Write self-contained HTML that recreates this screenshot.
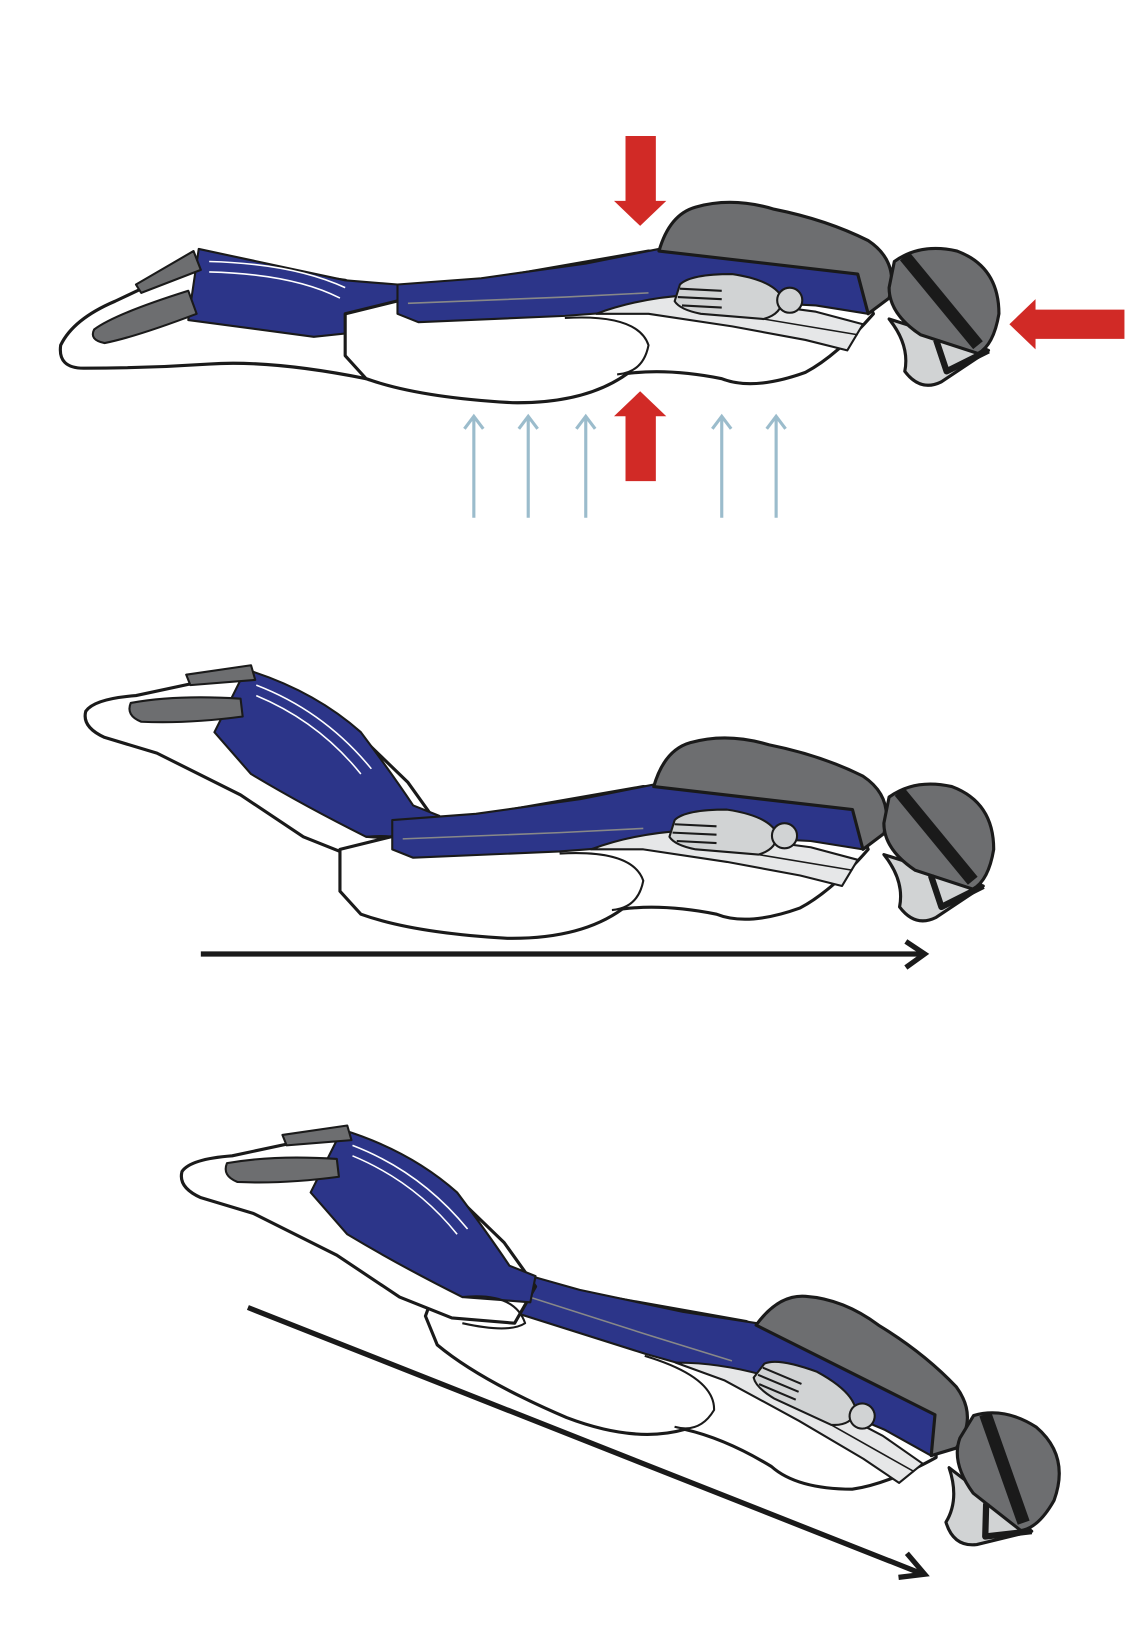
<!DOCTYPE html>
<html><head><meta charset="utf-8"><style>
html,body{margin:0;padding:0;background:#fff}
svg{display:block}
</style></head><body>
<svg width="1140" height="1650" viewBox="0 0 1140 1650" xmlns="http://www.w3.org/2000/svg">
<defs>
<g id="torso" stroke-linejoin="round">
  <path d="M330,300 L460,268 L620,240 L820,262 L835,300 Q800,340 770,356 Q720,374 690,362 Q640,352 600,357 Q560,386 490,385 Q400,380 350,362 L330,340 Z" fill="#fff" stroke="#1a1a1a" stroke-width="3"/>
  <path d="M380,272 L460,266 L560,252 L630,238 L820,262 L830,300 L780,292 L700,288 L620,296 L540,302 L400,308 L380,300 Z" fill="#2c3589" stroke="#1a1a1a" stroke-width="2"/>
  <path d="M390,290 L540,284 L620,280" fill="none" stroke="#888" stroke-width="1.5"/>
  <path d="M540,304 Q610,300 620,330 Q615,356 590,358" fill="none" stroke="#1a1a1a" stroke-width="2"/>
  <path d="M570,300 Q610,285 660,282 L780,298 L825,310 L810,335 L770,325 L700,312 L620,300 Z" fill="#e6e7e8" stroke="#1a1a1a" stroke-width="2"/>
  <path d="M700,300 L820,320" stroke="#1a1a1a" stroke-width="1.5"/>
  <path d="M650,272 Q660,262 700,262 Q740,268 748,285 Q748,300 730,305 L670,300 Q650,296 645,288 Z" fill="#d1d3d4" stroke="#1a1a1a" stroke-width="2"/>
  <path d="M650,276 L690,278 M648,284 L690,286 M652,292 L690,294" stroke="#1a1a1a" stroke-width="2"/>
  <circle cx="755" cy="287" r="12" fill="#d1d3d4" stroke="#1a1a1a" stroke-width="2"/>
  <path d="M630,240 Q640,205 665,198 Q700,188 740,200 Q790,210 830,230 Q860,250 850,285 L830,300 L820,262 Z" fill="#6d6e70" stroke="#1a1a1a" stroke-width="3"/>
  <path d="M850,305 Q870,330 865,355 Q880,375 900,365 L945,335 Z" fill="#d1d3d4" stroke="#1a1a1a" stroke-width="3"/>
  <path d="M855,250 Q880,232 915,240 Q955,255 955,300 Q950,330 935,338 L880,320 Q850,300 850,275 Z" fill="#6d6e70" stroke="#1a1a1a" stroke-width="3"/>
  <path d="M865,245 L935,330" stroke="#1a1a1a" stroke-width="12"/>
  <path d="M895,325 L905,355 L945,335" fill="none" stroke="#1a1a1a" stroke-width="6"/>
</g>
<g id="legs1" stroke-linejoin="round">
  <path d="M330,268 L190,250 L110,288 Q70,305 58,330 Q55,352 80,352 Q140,352 200,348 Q260,344 350,362 L400,345 L400,300 Z" fill="#fff" stroke="#1a1a1a" stroke-width="3"/>
  <path d="M190,238 L330,268 L380,272 L400,300 L395,312 L300,322 L180,306 Z" fill="#2c3589" stroke="#1a1a1a" stroke-width="2"/>
  <path d="M200,250 Q280,252 330,275 M200,260 Q280,262 325,285" fill="none" stroke="#fff" stroke-width="1.5"/>
  <path d="M340,300 Q400,300 405,330 Q395,358 350,360" fill="none" stroke="#1a1a1a" stroke-width="2"/>
  <path d="M130,272 L185,240 L192,258 L135,280 Z" fill="#6d6e70" stroke="#1a1a1a" stroke-width="2"/>
  <path d="M90,315 Q110,300 180,278 L188,300 Q130,322 100,328 Q85,325 90,315 Z" fill="#6d6e70" stroke="#1a1a1a" stroke-width="2"/>
</g>
<g id="legs2" stroke-linejoin="round">
  <path d="M240,645 L330,690 L390,748 L420,790 L400,825 L340,820 L290,800 L230,760 L150,720 L100,705 Q78,695 82,680 Q90,668 130,665 L200,650 Z" fill="#fff" stroke="#1a1a1a" stroke-width="3"/>
  <path d="M235,640 Q300,660 345,700 Q375,740 395,770 L420,780 L415,805 L350,800 Q290,770 240,740 L205,700 Z" fill="#2c3589" stroke="#1a1a1a" stroke-width="2"/>
  <path d="M245,655 Q310,680 355,735 M245,665 Q305,690 345,740" fill="none" stroke="#fff" stroke-width="1.5"/>
  <path d="M350,800 Q400,795 410,825 Q395,835 350,825" fill="none" stroke="#1a1a1a" stroke-width="2"/>
  <path d="M178,645 L240,636 L244,650 L182,655 Z" fill="#6d6e70" stroke="#1a1a1a" stroke-width="2"/>
  <path d="M125,672 Q170,664 230,668 L232,685 Q180,692 135,690 Q120,684 125,672 Z" fill="#6d6e70" stroke="#1a1a1a" stroke-width="2"/>
</g>
</defs>

<g transform="scale(1.046)">
<!-- Figure 1 -->
<use href="#legs1"/>
<use href="#torso"/>
<path d="M598,130 H627 V192 H637 L612,216 L587,192 H598 Z" fill="#d12a26"/>
<path d="M598,460 H627 V398 H637 L612,374 L587,398 H598 Z" fill="#d12a26"/>
<path d="M1075,296 V324 H990 V334 L965,310 L990,286 V296 Z" fill="#d12a26"/>
<g stroke="#9bbccc" stroke-width="3" fill="none">
  <path d="M453,495 V398 M444,410 L453,398 L462,410"/>
  <path d="M505,495 V398 M496,410 L505,398 L514,410"/>
  <path d="M560,495 V398 M551,410 L560,398 L569,410"/>
  <path d="M690,495 V398 M681,410 L690,398 L699,410"/>
  <path d="M742,495 V398 M733,410 L742,398 L751,410"/>
</g>

<!-- Figure 2 -->
<use href="#legs2"/>
<use href="#torso" transform="translate(-5,512)"/>
<path d="M192,912 H880" stroke="#1a1a1a" stroke-width="5"/>
<path d="M866,900 L884,912 L866,925" fill="none" stroke="#1a1a1a" stroke-width="5"/>

<!-- Figure 3 -->
<g transform="translate(495,1235) rotate(20) translate(-400,-800)">
  <use href="#torso" transform="translate(-5,512)"/>
</g>
<g transform="translate(92,440)">
  <use href="#legs2"/>
</g>
<path d="M237,1250 L880,1504" stroke="#1a1a1a" stroke-width="5"/>
<path d="M867,1485 L884,1505 L859,1508" fill="none" stroke="#1a1a1a" stroke-width="5"/>
</g>
</svg>
</body></html>
